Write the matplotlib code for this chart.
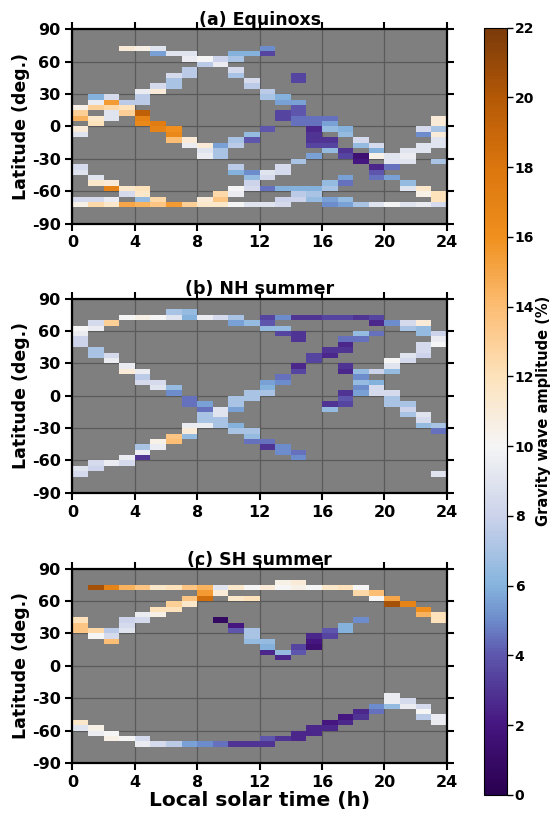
import numpy as np
import matplotlib
matplotlib.use('Agg')
import matplotlib.pyplot as plt
from matplotlib.colors import LinearSegmentedColormap

plt.rcParams['font.family'] = 'DejaVu Sans'
plt.rcParams['font.weight'] = 'bold'
plt.rcParams['axes.unicode_minus'] = False

# latitude bin centres (deg) and amplitude (%) of each 1-h local time bin, hour 0..23
eq_lat = [
    [17.5, 12.5, 7.5, -2.5, -7.5, -37.5, -42.5, -67.5, -72.5],
    [27.5, 22.5, 17.5, 7.5, 2.5, -47.5, -52.5, -67.5, -72.5],
    [27.5, 22.5, 17.5, 12.5, 7.5, -52.5, -57.5, -67.5, -72.5],
    [72.5, 22.5, 17.5, 12.5, -57.5, -62.5, -72.5],
    [72.5, 32.5, 27.5, 22.5, 12.5, 7.5, 2.5, -57.5, -62.5, -67.5, -72.5],
    [72.5, 67.5, 37.5, 32.5, 2.5, -2.5, -67.5, -72.5],
    [67.5, 47.5, 42.5, 37.5, -2.5, -7.5, -12.5, -72.5],
    [67.5, 62.5, 52.5, 47.5, -12.5, -17.5, -72.5],
    [62.5, 57.5, -17.5, -22.5, -27.5, -67.5, -72.5],
    [62.5, 57.5, -17.5, -22.5, -27.5, -62.5, -67.5, -72.5],
    [67.5, 62.5, 52.5, 47.5, -12.5, -17.5, -37.5, -42.5, -57.5, -62.5, -72.5],
    [67.5, 42.5, 37.5, -7.5, -12.5, -42.5, -47.5, -52.5, -57.5, -72.5],
    [72.5, 67.5, 32.5, 27.5, -2.5, -42.5, -47.5, -57.5, -72.5],
    [27.5, 22.5, 12.5, 7.5, -37.5, -42.5, -57.5, -67.5, -72.5],
    [47.5, 42.5, 22.5, 17.5, 12.5, 7.5, 2.5, -32.5, -57.5, -62.5, -67.5],
    [7.5, 2.5, -2.5, -7.5, -12.5, -17.5, -27.5, -57.5, -62.5, -67.5],
    [7.5, 2.5, -2.5, -12.5, -17.5, -22.5, -52.5, -57.5, -67.5, -72.5],
    [-2.5, -7.5, -22.5, -27.5, -47.5, -52.5, -67.5, -72.5],
    [-12.5, -17.5, -27.5, -32.5, -72.5],
    [-17.5, -22.5, -27.5, -37.5, -42.5, -47.5, -72.5],
    [-27.5, -32.5, -37.5, -47.5, -72.5],
    [-22.5, -27.5, -32.5, -52.5, -57.5, -72.5],
    [-2.5, -7.5, -17.5, -22.5, -57.5, -62.5, -72.5],
    [7.5, 2.5, -2.5, -7.5, -12.5, -17.5, -32.5, -62.5, -67.5, -72.5],
]
eq_amp = [
    [10.5, 13, 14.5, 11, 9, 8.5, 9, 8.5, 10.5],
    [6, 9.5, 13, 11.5, 12, 9, 11.5, 8.5, 12.5],
    [8.5, 15.5, 12.5, 9, 9, 11, 17, 9.5, 11.5],
    [11, 7.5, 12, 13, 11.5, 8.5, 15],
    [10.5, 9.5, 7.5, 7.5, 19.5, 17, 16.5, 12, 11.5, 6.5, 14.5],
    [9, 5.5, 8.5, 11, 17.5, 17, 12.5, 13.5],
    [9, 8.5, 7, 7, 16, 16.5, 14, 15.5],
    [9, 9.5, 7.5, 7.5, 11, 9.5, 13],
    [10, 7.5, 11, 9, 9.5, 11, 11.5],
    [8, 9.5, 5.5, 7, 7, 12.5, 13.5, 11.5],
    [6, 7, 8.5, 7, 7, 7.5, 7.5, 6, 10, 9.5, 10],
    [6, 8.5, 7.5, 6.5, 4, 5, 6.5, 8, 8.5, 9],
    [5, 3.5, 7.5, 7, 4, 9, 8.5, 4.5, 9],
    [6, 5.5, 3.5, 3.5, 8.5, 8.5, 6, 8, 8.5],
    [3.5, 3.5, 5.5, 4, 4, 4.5, 4.5, 7, 6, 7.5, 8],
    [4.5, 4.5, 2.5, 3, 3, 3.5, 5.5, 6, 7, 6.5],
    [4.5, 5.5, 6.5, 3, 3.5, 6.5, 6.5, 7, 5.5, 5],
    [6, 6.5, 3, 3.5, 5.5, 4.5, 6.5, 5.5],
    [8.5, 6.5, 1.5, 2, 7],
    [8.5, 6, 10.5, 2.5, 4, 4.5, 9],
    [9, 9, 4.5, 5.5, 10],
    [9, 9.5, 9, 6.5, 9, 9],
    [8.5, 5, 9, 9, 11.5, 10.5, 9.5],
    [11, 11, 7, 11, 9, 9, 7, 12, 12, 8.5],
]

nh_lat = [
    [62.5, 57.5, 52.5, 47.5, -67.5, -72.5],
    [67.5, 62.5, 42.5, 37.5, -62.5, -67.5],
    [67.5, 37.5, 32.5, -62.5],
    [72.5, 27.5, 22.5, -57.5, -62.5],
    [72.5, 22.5, 17.5, 12.5, -47.5, -52.5, -57.5],
    [72.5, 12.5, 7.5, -42.5, -47.5],
    [77.5, 72.5, 7.5, 2.5, -37.5, -42.5],
    [77.5, 72.5, -2.5, -7.5, -27.5, -32.5, -37.5],
    [72.5, -7.5, -12.5, -17.5, -22.5, -27.5],
    [72.5, -12.5, -17.5, -22.5, -27.5],
    [72.5, 67.5, -2.5, -7.5, -12.5, -27.5, -32.5],
    [67.5, 2.5, -2.5, -32.5, -37.5, -42.5],
    [72.5, 67.5, 62.5, 12.5, 7.5, 2.5, -42.5, -47.5],
    [72.5, 62.5, 57.5, 17.5, 12.5, -47.5, -52.5],
    [72.5, 57.5, 52.5, 27.5, 22.5, -52.5, -57.5],
    [72.5, 37.5, 32.5],
    [72.5, 42.5, 37.5, -7.5, -12.5],
    [72.5, 52.5, 47.5, 42.5, 27.5, 22.5, 2.5, -2.5, -7.5],
    [72.5, 57.5, 52.5, 22.5, 17.5, 12.5, 7.5, 2.5],
    [72.5, 67.5, 57.5, 22.5, 12.5, 7.5, 2.5],
    [67.5, 32.5, 27.5, 22.5, 2.5, -2.5, -7.5],
    [67.5, 62.5, 37.5, 32.5, -7.5, -12.5, -17.5],
    [67.5, 62.5, 57.5, 47.5, 42.5, 37.5, -17.5, -22.5, -27.5],
    [57.5, 52.5, 47.5, -27.5, -32.5, -72.5],
]
nh_amp = [
    [10, 9.5, 8, 8, 9, 8.5],
    [8.5, 9.5, 7, 7, 8.5, 8],
    [13, 8.5, 9.5, 9.5],
    [10, 9.5, 11, 9.5, 8.5],
    [10.5, 9.5, 7.5, 8.5, 7, 9.5, 3],
    [10, 8.5, 9, 10.5, 9.5],
    [7, 9, 6.5, 5, 13.5, 14],
    [6.5, 6, 4.5, 4.5, 9.5, 11, 6.5],
    [9.5, 5.5, 4.5, 7, 7, 9.5],
    [8.5, 9, 9, 7, 7],
    [7, 5.5, 7, 7, 5.5, 6, 7],
    [6.5, 7, 7, 7, 6.5, 4.5],
    [3.5, 4, 6.5, 5.5, 6, 7, 4.5, 3],
    [5, 6.5, 3.5, 4.5, 5, 5, 5],
    [3, 3, 3, 2.5, 3.5, 4.5, 5],
    [3, 3.5, 3.5],
    [3.5, 3, 2.5, 3, 6.5],
    [3.5, 4.5, 2.5, 3, 3, 2.5, 3, 4, 3.5],
    [3, 6.5, 4.5, 6.5, 5, 6.5, 5, 5.5],
    [3.5, 2.5, 4.5, 8, 6, 8.5, 8.5],
    [5, 10, 9, 6.5, 8.5, 7, 7],
    [8.5, 7, 9, 8.5, 7, 8, 7],
    [11, 6.5, 6.5, 8.5, 8.5, 8, 9, 8.5, 6.5],
    [8, 9.5, 10, 7, 4.5, 9],
]

sh_lat = [
    [42.5, 37.5, 32.5, -52.5, -57.5],
    [72.5, 32.5, 27.5, -57.5, -62.5],
    [72.5, 32.5, 27.5, 22.5, -62.5, -67.5],
    [72.5, 42.5, 37.5, 32.5, -67.5],
    [72.5, 47.5, 42.5, -67.5, -72.5],
    [72.5, 52.5, 47.5, -72.5],
    [72.5, 57.5, 52.5, -72.5],
    [72.5, 62.5, 57.5, -72.5],
    [72.5, 67.5, 62.5, -72.5],
    [72.5, 67.5, 42.5, -72.5],
    [72.5, 62.5, 37.5, 32.5, -72.5],
    [72.5, 62.5, 32.5, 27.5, 22.5, -72.5],
    [72.5, 22.5, 17.5, 12.5, -67.5, -72.5],
    [77.5, 72.5, 12.5, 7.5, -67.5],
    [77.5, 72.5, 17.5, 12.5, -62.5, -67.5],
    [72.5, 27.5, 22.5, 17.5, -57.5, -62.5],
    [72.5, 32.5, 27.5, -52.5, -57.5],
    [72.5, 37.5, 32.5, -47.5, -52.5],
    [72.5, 67.5, 42.5, -42.5, -47.5],
    [67.5, 62.5, -37.5, -42.5],
    [62.5, 57.5, -27.5, -32.5, -37.5],
    [57.5, -32.5, -37.5],
    [52.5, 47.5, -37.5, -42.5, -47.5],
    [47.5, 42.5, -47.5, -52.5],
]
sh_amp = [
    [12, 13.5, 13.5, 11.5, 9],
    [20.5, 12.5, 10, 10.5, 9.5],
    [17, 7.5, 8.5, 14, 10, 10.5],
    [14.5, 8, 8.5, 9, 10],
    [13.5, 9.5, 8.5, 8.5, 9.5],
    [11.5, 12, 10.5, 8.5],
    [12, 13, 12, 7.5],
    [13.5, 13.5, 11.5, 5.5],
    [14.5, 15.5, 18.5, 5],
    [9, 11, 0.8, 4.5],
    [11.5, 11.5, 2, 4, 3],
    [10, 12, 7, 7, 6.5, 3],
    [11, 6.5, 6, 2.5, 4, 3],
    [10.5, 10, 6.5, 2.5, 3],
    [11, 10.5, 3.5, 4, 2.5, 2.5],
    [10, 2.5, 2, 1.5, 2.5, 2.5],
    [11.5, 4, 3.5, 2, 2.5],
    [12, 6, 6, 2, 2.5],
    [10, 12.5, 5, 2.5, 3],
    [14, 10, 5, 4.5],
    [15, 20.5, 9.5, 9.5, 6.5],
    [17, 8.5, 9.5],
    [16, 14.5, 8.5, 10, 7.5],
    [12, 12, 9.5, 9.5],
]

titles = ['(a) Equinoxs', '(b) NH summer', '(c) SH summer']

hour_edges = np.arange(0, 25, 1)
lat_edges = np.arange(-90, 91, 5)

cmap = LinearSegmentedColormap.from_list('gw', [
    (0 / 22, '#2a0050'), (2 / 22, '#45167f'), (4 / 22, '#5d57ad'),
    (5 / 22, '#6d8ccb'), (6 / 22, '#86b4de'), (8 / 22, '#ccd3ea'),
    (10 / 22, '#f5f5f5'), (12 / 22, '#fde2bb'), (14 / 22, '#fcbd73'),
    (16 / 22, '#f0901e'), (18 / 22, '#dc760e'), (20 / 22, '#b55906'),
    (22 / 22, '#7a3a0a')])


def to_grid(lats, amps):
    grid = np.full((len(lat_edges) - 1, len(hour_edges) - 1), np.nan)
    for h in range(24):
        for la, v in zip(lats[h], amps[h]):
            grid[int((la + 90) // 5), h] = v
    return np.ma.masked_invalid(grid)


fig = plt.figure(figsize=(5.53, 8.16), dpi=100)
boxes = [[0.131, 0.726, 0.677, 0.238],
         [0.131, 0.396, 0.677, 0.238],
         [0.131, 0.065, 0.677, 0.238]]
data = [(eq_lat, eq_amp), (nh_lat, nh_amp), (sh_lat, sh_amp)]

for i in range(3):
    ax = fig.add_axes(boxes[i])
    ax.set_facecolor('#7f7f7f')
    ax.set_axisbelow(True)
    ax.grid(color='#5a5a5a', lw=0.9)
    mesh = ax.pcolormesh(hour_edges, lat_edges, to_grid(*data[i]),
                         cmap=cmap, vmin=0, vmax=22)
    ax.set_xlim(0, 24)
    ax.set_ylim(-90, 90)
    ax.set_xticks(np.arange(0, 25, 4))
    ax.set_yticks(np.arange(-90, 91, 30))
    ax.tick_params(labelsize=11.5, width=1.5, length=5, top=True, right=True)
    for s in ax.spines.values():
        s.set_linewidth(1.6)
    ax.set_ylabel('Latitude (deg.)', fontsize=12.5, fontweight='bold', labelpad=1)
    ax.set_title(titles[i], fontsize=12.5, fontweight='bold', pad=3)
    if i == 2:
        ax.set_xlabel('Local solar time (h)', fontsize=14.5, fontweight='bold', labelpad=1)

cax = fig.add_axes([0.875, 0.026, 0.042, 0.94])
cb = fig.colorbar(mesh, cax=cax, ticks=np.arange(0, 23, 2))
cb.ax.tick_params(labelsize=10, width=1, length=4, pad=1.5)
cb.outline.set_linewidth(0.8)
cb.set_label('Gravity wave amplitude (%)', fontsize=10.5, fontweight='bold', labelpad=1)

plt.savefig('out.png', dpi=100)
